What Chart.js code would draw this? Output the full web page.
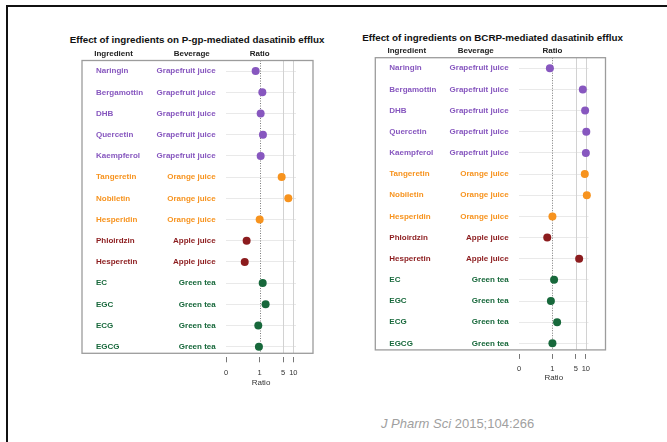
<!DOCTYPE html>
<html>
<head>
<meta charset="utf-8">
<script src="https://cdn.jsdelivr.net/npm/chart.js@4.4.1/dist/chart.umd.min.js"></script>
<style>
  html, body { margin: 0; padding: 0; background: #fff; overflow: hidden; }
  body { width: 667px; height: 442px; position: relative; font-family: "Liberation Sans", Arial, sans-serif; }
  .rule-top { position: absolute; left: 6px; top: 5px; width: 661px; height: 2px; background: #111; }
  .rule-left { position: absolute; left: 6px; top: 5px; width: 2px; height: 437px; background: #111; }
  canvas { position: absolute; }
  #pgp { left: 60px; top: 30px; }
  #bcrp { left: 355px; top: 28px; }
  .title { position: absolute; width: 270px; text-align: center; font-weight: bold; font-size: 9.8px; line-height: 12px; color: #111; white-space: nowrap; }
  #t-pgp { left: 62px; top: 34px; }
  #t-bcrp { left: 357.5px; top: 32.3px; }
  .cite { position: absolute; left: 381px; top: 416px; font-size: 13px; color: #a0a0a0; }
</style>
</head>
<body>
<div class="rule-top"></div>
<div class="rule-left"></div>
<div class="title" id="t-pgp">Effect of ingredients on P-gp-mediated dasatinib efflux</div>
<div class="title" id="t-bcrp">Effect of ingredients on BCRP-mediated dasatinib efflux</div>
<canvas id="pgp" width="270" height="370"></canvas>
<canvas id="bcrp" width="270" height="370"></canvas>
<div class="cite"><i>J Pharm Sci</i> 2015;104:266</div>
<script>
const ingredients = ['Naringin', 'Bergamottin', 'DHB', 'Quercetin', 'Kaempferol', 'Tangeretin', 'Nobiletin',
  'Hesperidin', 'Phloirdzin', 'Hesperetin', 'EC', 'EGC', 'ECG', 'EGCG'];
const beverages = ['Grapefruit juice', 'Grapefruit juice', 'Grapefruit juice', 'Grapefruit juice', 'Grapefruit juice',
  'Orange juice', 'Orange juice', 'Orange juice', 'Apple juice', 'Apple juice',
  'Green tea', 'Green tea', 'Green tea', 'Green tea'];
const pgpRatio = [0.76, 1.2, 1.07, 1.25, 1.07, 4.5, 7.1, 1.0, 0.41, 0.36, 1.23, 1.5, 0.91, 0.95];
const bcrpRatio = [0.84, 8.1, 9.5, 10.3, 10.0, 9.3, 10.7, 1.0, 0.7, 6.3, 1.12, 0.9, 1.38, 1.0];
const axisTicks = [0.1, 1, 5, 10];
const axisTickLabels = ['0', '1', '5', '10'];
const headers = ['Ingredient', 'Beverage', 'Ratio'];

// couleur par boisson
const beverageColors = {
  'Grapefruit juice': '#8757bf',
  'Orange juice': '#f7931e',
  'Apple juice': '#8c1c1e',
  'Green tea': '#17683b'
};
const FONT = '"Liberation Sans", Arial, sans-serif';

// box, reference lines and column headers
const decor = {
  id: 'decor',
  beforeDatasetsDraw(chart, args, opts) {
    const { ctx, chartArea: a } = chart;
    const x = chart.scales.x, yIng = chart.scales.yIng, yBev = chart.scales.yBev;
    const boxBottom = a.bottom - 4;
    ctx.save();
    ctx.lineWidth = 1;
    ctx.strokeStyle = '#d2d2d2';
    [5, 10].forEach(v => {
      const px = Math.round(x.getPixelForValue(v)) + 0.5;
      ctx.beginPath(); ctx.moveTo(px, a.top); ctx.lineTo(px, boxBottom); ctx.stroke();
    });
    ctx.strokeStyle = '#7a7a7a';
    ctx.setLineDash([1, 1.5]);
    const p1 = Math.round(x.getPixelForValue(1)) + 0.5;
    ctx.beginPath(); ctx.moveTo(p1, a.top); ctx.lineTo(p1, boxBottom); ctx.stroke();
    ctx.setLineDash([]);

    ctx.strokeStyle = '#9c9c9c';
    ctx.lineWidth = 1.3;
    const bl = yIng.left - 14;
    ctx.strokeRect(bl, a.top, a.right + 17 - bl, boxBottom - a.top);

    ctx.font = 'bold 8px ' + FONT;
    ctx.fillStyle = '#222';
    ctx.textAlign = 'center';
    ctx.textBaseline = 'middle';
    const hy = a.top - 7;
    ctx.fillText(headers[0], yIng.left + 17.5, hy);
    ctx.fillText(headers[1], yBev.right - opts.bevHead, hy);
    ctx.fillText(headers[2], x.getPixelForValue(1), hy);
    ctx.restore();
  }
};

function makeChart(id, values, cfg) {
  const colors = beverages.map(b => beverageColors[b]);
  new Chart(document.getElementById(id), {
    type: 'scatter',
    data: {
      datasets: [{
        data: ingredients.map((name, i) => ({ x: values[i], y: name })),
        xAxisID: 'x',
        yAxisID: 'yIng',
        clip: false,
        pointBackgroundColor: colors,
        pointBorderWidth: 0,
        pointRadius: 4,
        pointHoverRadius: 4
      }]
    },
    options: {
      responsive: false,
      animation: false,
      layout: { padding: { top: cfg.padTop, left: cfg.padLeft, right: cfg.padRight, bottom: cfg.padBottom } },
      plugins: {
        legend: { display: false },
        tooltip: { enabled: false },
        decor: { bevHead: cfg.bevHead }
      },
      scales: {
        x: {
          type: 'logarithmic',
          min: 0.1,
          max: 12,
          afterBuildTicks: s => { s.ticks = axisTicks.map(v => ({ value: v })); },
          afterFit: s => { s.height = cfg.xHeight; },
          border: { display: false },
          grid: { drawOnChartArea: false, drawTicks: true, tickLength: 5, tickColor: '#777', tickWidth: 1 },
          ticks: {
            autoSkip: false,
            maxRotation: 0,
            padding: 6,
            color: '#333',
            font: { family: FONT, size: 7.5 },
            callback: (v, i) => axisTickLabels[i]
          },
          title: { display: true, text: 'Ratio', color: '#333', font: { family: FONT, size: 8 }, padding: 0 }
        },
        yIng: {
          type: 'category',
          position: 'left',
          weight: 2,
          labels: ingredients,
          offset: true,
          afterFit: s => { s.width = 50; },
          border: { display: false },
          grid: { drawOnChartArea: true, drawTicks: false, offset: false, color: '#e9e9e9', lineWidth: 1 },
          ticks: {
            autoSkip: false,
            crossAlign: 'far',
            padding: 0,
            color: c => colors[c.index],
            font: { family: FONT, size: 8, weight: 'bold' }
          }
        },
        yBev: {
          type: 'category',
          position: 'left',
          weight: 1,
          labels: beverages,
          min: 0,
          max: beverages.length - 1,
          offset: true,
          afterFit: s => { s.width = cfg.bevWidth; },
          border: { display: false },
          grid: { display: false, drawTicks: false, drawOnChartArea: false },
          ticks: {
            autoSkip: false,
            crossAlign: 'near',
            padding: 10.3,
            color: c => colors[c.index],
            font: { family: FONT, size: 8, weight: 'bold' }
          }
        }
      }
    },
    plugins: [decor]
  });
}

makeChart('pgp', pgpRatio,
  { padTop: 30.5, padLeft: 36, padRight: 34, padBottom: 12.5, bevWidth: 80, xHeight: 30.2, bevHead: 34.3 });
makeChart('bcrp', bcrpRatio,
  { padTop: 29.7, padLeft: 34.3, padRight: 36.5, padBottom: 15.5, bevWidth: 79.7, xHeight: 28.6, bevHead: 43.3 });
</script>
</body>
</html>
